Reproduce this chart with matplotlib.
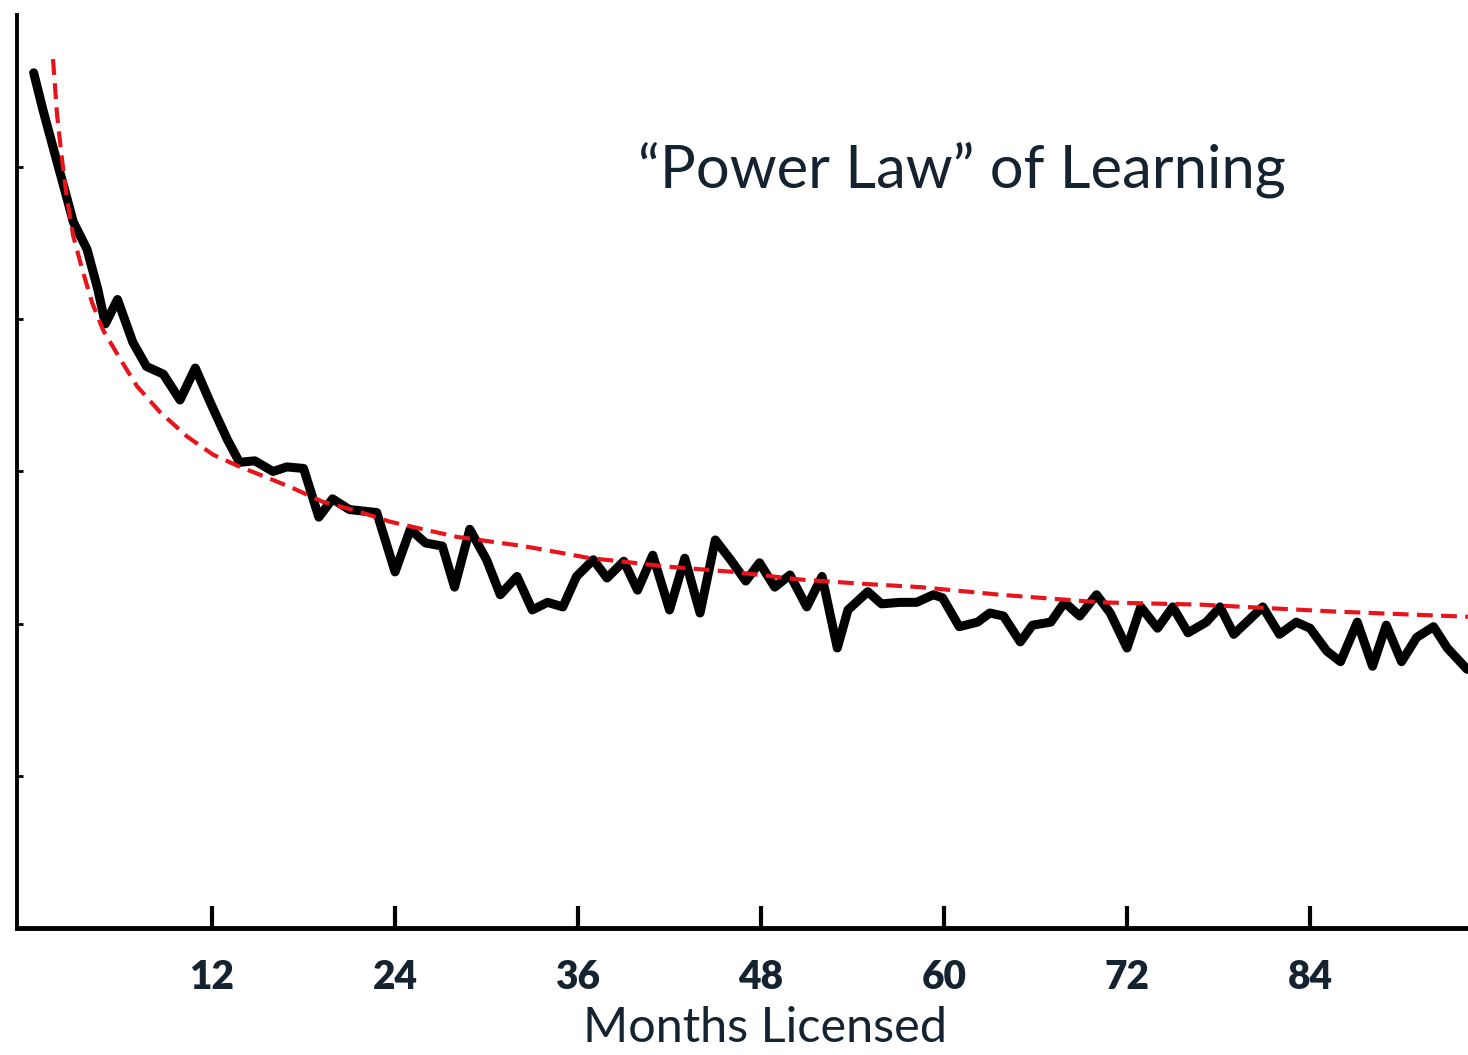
import matplotlib.pyplot as plt

months = [0.3, 0.9, 1.6, 2.5, 2.9, 3.8, 4.5, 5.0, 5.8, 6.8, 7.7, 8.8, 9.9, 10.9,
          11.9, 13.0, 13.8, 14.8, 16.0, 16.9, 18.0, 19.0, 19.9, 21.0, 22.8, 24.0,
          25.0, 26.0, 27.1, 27.9, 28.9, 30.0, 30.9, 32.0, 33.0, 34.0, 35.0, 35.9,
          37.0, 37.9, 39.0, 39.9, 40.9, 42.0, 43.0, 44.0, 45.0, 46.0, 47.0, 47.9,
          48.9, 49.9, 51.0, 52.0, 53.0, 53.7, 55.0, 55.9, 57.1, 58.2, 59.3, 59.9,
          61.0, 62.2, 63.0, 63.9, 65.0, 65.8, 67.0, 67.9, 68.9, 70.0, 70.9, 72.0,
          72.9, 74.0, 75.0, 76.0, 77.2, 78.1, 79.0, 80.9, 82.0, 83.1, 84.0, 85.1,
          86.0, 87.1, 88.1, 89.0, 90.0, 91.0, 92.1, 93.0, 94.3]
observed = [56.2, 53.8, 51.2, 47.9, 46.4, 44.6, 42.0, 39.7, 41.3, 38.5, 36.9, 36.4,
            34.7, 36.8, 34.5, 32.1, 30.6, 30.7, 30.0, 30.3, 30.2, 27.0, 28.2, 27.5,
            27.3, 23.4, 26.2, 25.3, 25.1, 22.4, 26.2, 24.2, 21.9, 23.1, 20.9, 21.4,
            21.1, 23.1, 24.2, 23.0, 24.1, 22.2, 24.5, 20.9, 24.3, 20.7, 25.5, 24.2,
            22.8, 24.0, 22.4, 23.2, 21.1, 23.1, 18.4, 20.9, 22.1, 21.3, 21.4, 21.4,
            21.9, 21.7, 19.8, 20.1, 20.7, 20.5, 18.8, 19.9, 20.1, 21.4, 20.5, 21.9,
            20.7, 18.4, 21.1, 19.7, 21.1, 19.4, 20.1, 21.1, 19.3, 21.1, 19.3, 20.1,
            19.7, 18.2, 17.5, 20.1, 17.2, 19.9, 17.5, 19.1, 19.8, 18.4, 17.0]

# power law fit (red dashed)
fit_months = [1.57, 1.84, 2.16, 2.49, 2.89, 3.48, 4.13, 4.85, 5.97, 7.08, 8.59,
              10.36, 12.07, 13.84, 15.61, 17.31, 19.28, 21.51, 23.67, 25.84, 28.07,
              30.23, 32.39, 34.62, 36.79, 38.75, 41.84, 46.16, 50.56, 54.95, 58.43,
              63.67, 70.23, 76.79, 85.51, 94.4]
fit_values = [57.1, 53.4, 50.5, 47.9, 45.5, 43.3, 41.1, 39.3, 37.4, 35.6, 33.9,
              32.3, 31.1, 30.3, 29.6, 28.9, 28.0, 27.4, 26.7, 26.2, 25.7,
              25.4, 25.1, 24.7, 24.3, 24.1, 23.75, 23.4, 22.9, 22.6, 22.4,
              21.9, 21.4, 21.25, 20.8, 20.45]

xticks = [12, 24, 36, 48, 60, 72, 84]
navy = "#14232f"

fig = plt.figure(figsize=(14.68, 10.55), dpi=100)
ax = fig.add_axes([0.0116, 0.1204, 0.9884, 0.8654])

ax.plot(fit_months, fit_values, color="#e8141b", lw=3, dashes=(3.8, 2), zorder=3)
ax.plot(months, observed, color="black", lw=6.5, solid_joinstyle="round",
        solid_capstyle="round", zorder=2)

ax.set_xlim(-0.79, 94.36)
ax.set_ylim(0, 60)

ax.spines["top"].set_visible(False)
ax.spines["right"].set_visible(False)
ax.spines["left"].set_linewidth(2.8)
ax.spines["bottom"].set_linewidth(3.5)

ax.set_xticks(xticks)
ax.set_xticklabels([str(t) for t in xticks], fontfamily="Lato", fontweight="heavy",
                   fontsize=28, color=navy)
ax.tick_params(axis="x", direction="in", length=16, width=3, pad=22)
ax.set_yticks([10, 20, 30, 40, 50])
ax.set_yticklabels([])
ax.tick_params(axis="y", direction="in", length=4, width=2)

ax.set_xlabel("Months Licensed", fontfamily="Lato", fontsize=35, color=navy)
ax.xaxis.set_label_coords(0.5155, -0.085)
ax.text(0.428, 0.83, "\u201cPower Law\u201d of Learning", transform=ax.transAxes,
        fontfamily="Lato", fontsize=43, color=navy, ha="left", va="center")

fig.savefig("out.png", dpi=100)
